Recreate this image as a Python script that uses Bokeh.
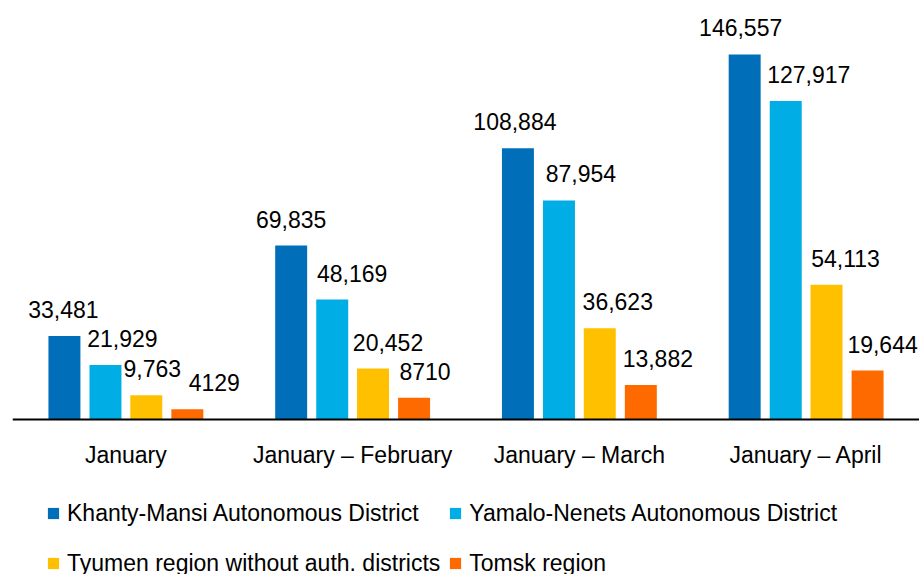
from bokeh.plotting import figure
from bokeh.models import ColumnDataSource, FactorRange, Legend, LegendItem, LabelSet, Span
from bokeh.core.properties import value
from bokeh.transform import dodge
from bokeh.embed import file_html
from bokeh.resources import INLINE

periods = ["January", "January – February", "January – March", "January – April"]
series_names = [
    "Khanty-Mansi Autonomous District",
    "Yamalo-Nenets Autonomous District",
    "Tyumen region without auth. districts",
    "Tomsk region",
]
khanty_mansi = [33481, 69835, 108884, 146557]
yamalo_nenets = [21929, 48169, 87954, 127917]
tyumen = [9763, 20452, 36623, 54113]
tomsk = [4129, 8710, 13882, 19644]

khanty_mansi_labels = ["33,481", "69,835", "108,884", "146,557"]
yamalo_nenets_labels = ["21,929", "48,169", "87,954", "127,917"]
tyumen_labels = ["9,763", "20,452", "36,623", "54,113"]
tomsk_labels = ["4129", "8710", "13,882", "19,644"]

colors = ["#006EB9", "#00ADE5", "#FFC000", "#FF6A00"]
FONT = "Liberation Sans"

# label nudges (screen px), as placed in the reference
label_nudge = [
    [-1, 0, -3, -4],
    [17, 20, 22, 23],
    [6, 15, 18, 19],
    [27, 11, 17, 15],
]

p = figure(
    x_range=FactorRange(*periods, range_padding=0),
    y_range=(-62236, 168239),
    width=919, height=574,
    output_backend="svg", toolbar_location=None,
    min_border_left=12, min_border_right=0, min_border_top=0, min_border_bottom=0,
)
p.outline_line_color = None
p.xgrid.visible = False
p.ygrid.visible = False
p.yaxis.visible = False
p.xaxis.visible = False

vals = [khanty_mansi, yamalo_nenets, tyumen, tomsk]
labs = [khanty_mansi_labels, yamalo_nenets_labels, tyumen_labels, tomsk_labels]
offsets = [-0.271, -0.090, 0.090, 0.271]

renderers = []
for i in range(4):
    src = ColumnDataSource(dict(x=periods, y=vals[i], t=labs[i], dx=label_nudge[i]))
    r = p.vbar(x=dodge("x", offsets[i], range=p.x_range), top="y", bottom=0, width=0.141,
               source=src, fill_color=colors[i], line_color=None)
    renderers.append(r)
    ls = LabelSet(x=dodge("x", offsets[i], range=p.x_range), y="y", text="t", source=src,
                  text_align="center", text_baseline="alphabetic",
                  x_offset="dx", y_offset=18,
                  text_font=value(FONT), text_font_size=value("23px"), text_color="#000000")
    p.add_layout(ls)

# baseline (category axis line)
p.add_layout(Span(location=0, dimension="width", line_color="#000000", line_width=2))

# category labels
cat_src = ColumnDataSource(dict(x=periods, y=[0] * len(periods), t=periods))
p.add_layout(LabelSet(x="x", y="y", text="t", source=cat_src,
                      text_align="center", text_baseline="middle", y_offset=-35,
                      text_font=value(FONT), text_font_size=value("23px"), text_color="#000000"))

# legend: column-major fill with 2 columns -> order so rows read as in the reference
order = [0, 2, 1, 3]
items = [LegendItem(label=series_names[k], renderers=[renderers[k]]) for k in order]
legend = Legend(items=items, ncols=2, location=(34, -10))
legend.border_line_color = None
legend.background_fill_alpha = 0
legend.margin = 0
legend.padding = 0
legend.spacing = 8
legend.glyph_width = 14
legend.glyph_height = 14
legend.label_standoff = 7
legend.label_height = 42
legend.label_text_font = FONT
legend.label_text_font_size = "23px"
legend.label_text_color = "#000000"
p.add_layout(legend)

open("out.html", "w").write(file_html(p, INLINE))
